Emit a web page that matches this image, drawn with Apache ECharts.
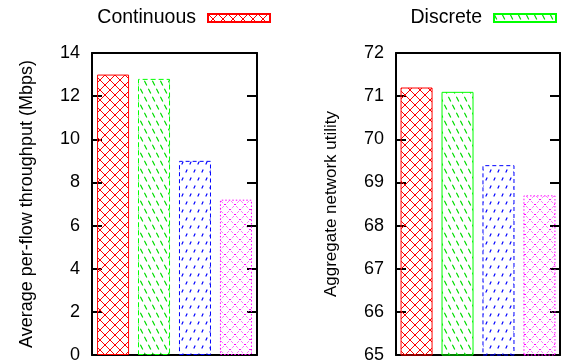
<!DOCTYPE html>
<html>
<head>
<meta charset="utf-8">
<script src="https://cdn.jsdelivr.net/npm/echarts@6/dist/echarts.min.js"></script>
<style>
  html, body { margin: 0; padding: 0; background: #fff; }
  #chart { width: 563px; height: 364px; }
</style>
</head>
<body>
<div id="chart"></div>
<script>
// series names (only first two appear in the key)
const seriesNames = ['Continuous', 'Discrete', 'Series 3', 'Series 4'];
const categories = [''];
const throughput = [13.0, 12.8, 9.0, 7.2];
const utility = [71.2, 71.1, 69.4, 68.7];
const throughputTicks = { min: 0, max: 14, interval: 2 };
const utilityTicks = { min: 65, max: 72, interval: 1 };

// fill patterns like the gnuplot ones
const makeTile = (w, h, draw) => {
  const c = document.createElement('canvas');
  c.width = w;
  c.height = h;
  const ctx = c.getContext('2d');
  draw(ctx);
  return { image: c, repeat: 'repeat' };
};

const crossHatch = (color, dash) => makeTile(10, 10, ctx => {
  ctx.strokeStyle = color;
  ctx.lineWidth = 1;
  if (dash) ctx.setLineDash(dash);
  ctx.beginPath();
  ctx.moveTo(-1, -1); ctx.lineTo(11, 11);
  ctx.moveTo(11, -1); ctx.lineTo(-1, 11);
  ctx.stroke();
});

// steep dashed lines, dir 1 = "\" , -1 = "/"
const dashedLines = (color, dir, segs) => makeTile(16, 16, ctx => {
  ctx.strokeStyle = color;
  ctx.lineWidth = 1.2;
  ctx.beginPath();
  [-8, 0, 8, 16].forEach(x0 => {
    segs.forEach(([a, b]) => {
      const xa = dir > 0 ? x0 + a * 8 : x0 + 8 - a * 8;
      const xb = dir > 0 ? x0 + b * 8 : x0 + 8 - b * 8;
      ctx.moveTo(xa, a * 16);
      ctx.lineTo(xb, b * 16);
    });
  });
  ctx.stroke();
});

const fills = [
  crossHatch('#ff0000'),
  dashedLines('#00dd00', 1, [[0.05, 0.35], [0.55, 0.85]]),
  dashedLines('#0000ff', -1, [[0.1, 0.28], [0.6, 0.78]]),
  crossHatch('#ff00ff', [1.5, 2])
];
const borderColors = ['#ff0000', '#00ff00', '#0000ff', '#ff00ff'];
// left plot has a dashed green outline, right plot a solid one
const borderTypes = [
  ['solid', [5, 3], [4, 3], [1.5, 2]],
  ['solid', 'solid', [4, 3], [1.5, 2]]
];

const font = 'Liberation Sans, Arial, sans-serif';

const makeY = (gridIndex, ticks, name, nameSize, right) => ({
  type: 'value',
  gridIndex,
  position: right ? 'right' : 'left',
  min: ticks.min,
  max: ticks.max,
  interval: ticks.interval,
  name: right ? '' : name,
  nameLocation: 'middle',
  nameGap: 56,
  nameTextStyle: { fontFamily: font, fontSize: nameSize, color: '#000' },
  axisLine: { show: true, lineStyle: { color: '#000', width: 2 } },
  axisTick: { show: true, inside: true, length: 10, lineStyle: { color: '#000', width: 2 } },
  axisLabel: { show: !right, margin: 12, fontFamily: font, fontSize: 18, color: '#000' },
  splitLine: { show: false }
});

const makeX = (gridIndex, top) => ({
  type: 'category',
  gridIndex,
  position: top ? 'top' : 'bottom',
  data: categories,
  axisLine: { show: true, onZero: false, lineStyle: { color: '#000', width: 2 } },
  axisTick: { show: false },
  axisLabel: { show: false }
});

const makeSeries = (values, gridIndex) => seriesNames.map((name, i) => ({
  name,
  type: 'bar',
  xAxisIndex: gridIndex * 2,
  yAxisIndex: gridIndex * 2,
  data: [values[i]],
  barWidth: 32,
  barGap: '28%',
  z: 1,
  itemStyle: {
    color: fills[i],
    borderColor: borderColors[i],
    borderWidth: 1,
    borderType: borderTypes[gridIndex][i]
  }
}));

const makeLegend = (name, right) => ({
  data: [name],
  right,
  top: 8,
  padding: 0,
  align: 'right',
  icon: 'rect',
  itemWidth: 62,
  itemHeight: 8,
  textStyle: { fontFamily: font, fontSize: 19.5, color: '#000', padding: [0, 7, 0, 0] }
});

const chart = echarts.init(document.getElementById('chart'));

const option = {
  animation: false,
  legend: [makeLegend('Continuous', 292), makeLegend('Discrete', 6)],
  grid: [
    { left: 92, right: 306, top: 53, bottom: 6 },
    { left: 396, right: 3, top: 53, bottom: 6 }
  ],
  xAxis: [makeX(0, false), makeX(0, true), makeX(1, false), makeX(1, true)],
  yAxis: [
    makeY(0, throughputTicks, 'Average per-flow throughput (Mbps)', 18, false),
    makeY(0, throughputTicks, '', 18, true),
    makeY(1, utilityTicks, 'Aggregate network utility', 17, false),
    makeY(1, utilityTicks, '', 17, true)
  ],
  series: [...makeSeries(throughput, 0), ...makeSeries(utility, 1)]
};

chart.setOption(option);
</script>
</body>
</html>
